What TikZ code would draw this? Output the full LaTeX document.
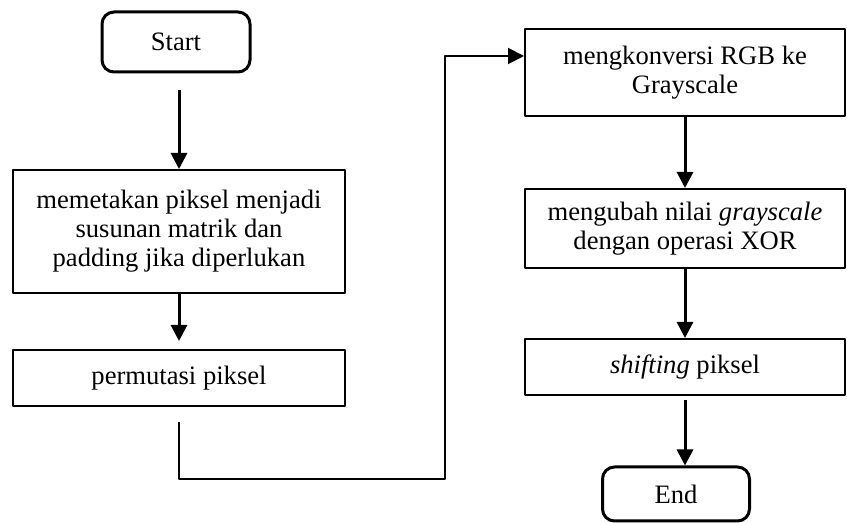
\documentclass[tikz,border=0pt]{standalone}
\usepackage{fontspec}
\setmainfont{Liberation Serif}
\usetikzlibrary{arrows.meta}
\begin{document}
\begin{tikzpicture}[x=0.5pt,y=0.5pt,line join=round,font=\fontsize{13.3}{14.5}\selectfont,
	proses/.style={draw,line width=1pt,minimum width=166pt,align=center,inner sep=0pt},
	ujung/.style={draw,line width=1.5pt,rounded corners=6pt,minimum width=74pt,inner sep=0pt},
	panah/.style={-{Triangle[width=8pt,length=8pt]},line width=1.5pt}]
	\useasboundingbox (0,0) rectangle (847,-523);
	%Kolom kiri
	\node[ujung,minimum height=30pt] (start) at (176,-42) {Start};
	\node[proses,minimum height=61.5pt] (peta) at (179,-231.5) {memetakan piksel menjadi\\ susunan matrik dan\\ padding jika diperlukan};
	\node[proses,minimum height=28pt] (permutasi) at (179,-378) {permutasi piksel};
	%Kolom kanan
	\node[proses,minimum width=160pt,minimum height=43.5pt] (konversi) at (685,-72.5) {mengkonversi RGB ke\\ Grayscale};
	\node[proses,minimum width=160pt,minimum height=39.5pt] (xor) at (685,-228.5) {mengubah nilai \textit{grayscale}\\ dengan operasi XOR};
	\node[proses,minimum width=160pt,minimum height=28pt] (shift) at (685,-367) {\textit{shifting} piksel};
	\node[ujung,minimum width=73.5pt,minimum height=27pt] (end) at (676,-494) {End};
	%Panah
	\draw[panah,shorten <=8.5pt] (start.south-|peta.north) -- (peta.north);
	\draw[panah,shorten >=4pt] (peta) -- (permutasi);
	\coordinate (belok) at (445,-479);
	\draw[panah,line width=1pt,shorten <=7.5pt] (permutasi.south) |- (belok) |- ([yshift=-14pt]konversi.north west);
	\draw[panah] (konversi) -- (xor);
	\draw[panah] (xor) -- (shift);
	\draw[panah,shorten <=2pt] (shift.south) -- (shift.south|-end.north);
\end{tikzpicture}
\end{document}
